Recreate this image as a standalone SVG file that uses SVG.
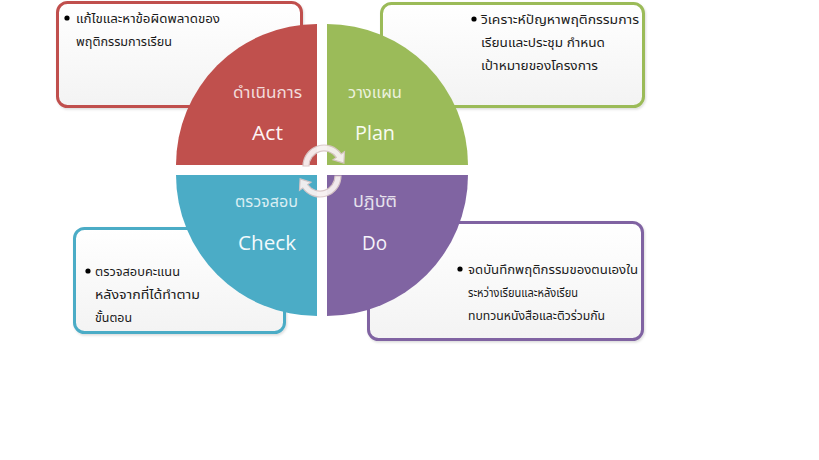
<svg xmlns="http://www.w3.org/2000/svg" width="819" height="460" viewBox="0 0 819 460">
<defs>
<linearGradient id="boxfill" x1="0" y1="0" x2="0" y2="1">
<stop offset="0" stop-color="#ffffff"/>
<stop offset="1" stop-color="#f3f3f3"/>
</linearGradient>
<filter id="sh" x="-5%" y="-5%" width="112%" height="115%">
<feDropShadow dx="1" dy="1.5" stdDeviation="1.2" flood-color="#000" flood-opacity="0.14"/>
</filter>
<path id="arr" d="M303,166 A21,21 0 0 1 341.2,154 L344.5,151.7 L343.9,163.1 L333,159.7 L336.3,157.4 A15,15 0 0 0 309,166 Z"/>
</defs>
<style>
.box{fill:url(#boxfill);stroke-width:3;filter:url(#sh)}
.bt{font-family:"Tahoma","Noto Sans Thai","Noto Sans","DejaVu Sans",sans-serif;font-size:13px;fill:#1a1a1a}
.th{font-family:"Noto Sans Thai","Noto Sans","DejaVu Sans",sans-serif;font-size:15px}
.en{font-family:"Open Sans","Noto Sans",sans-serif;font-size:20px}
.arrow{fill:#f7f1f1;stroke:#d8c6c6;stroke-width:1.2;opacity:0.95}
</style>
<rect width="819" height="460" fill="#ffffff"/>

<g id="box-act">
<rect class="box" x="57.5" y="2.5" width="244" height="104" rx="10" stroke="#c0504d"/>
<circle cx="67" cy="18" r="2.6" fill="#000"/>
<text class="bt" x="76" y="23" textLength="144" lengthAdjust="spacingAndGlyphs">แก้ไขและหาข้อผิดพลาดของ</text>
<text class="bt" x="76" y="46" textLength="96" lengthAdjust="spacingAndGlyphs">พฤติกรรมการเรียน</text>
</g>
<g id="box-plan">
<rect class="box" x="381.5" y="3.5" width="262" height="103" rx="10" stroke="#9bbb59"/>
<circle cx="474" cy="19" r="2.6" fill="#000"/>
<text class="bt" x="481" y="24" textLength="158" lengthAdjust="spacingAndGlyphs">วิเคราะห์ปัญหาพฤติกรรมการ</text>
<text class="bt" x="481" y="47" textLength="124" lengthAdjust="spacingAndGlyphs">เรียนและประชุม กำหนด</text>
<text class="bt" x="481" y="70" textLength="117" lengthAdjust="spacingAndGlyphs">เป้าหมายของโครงการ</text>
</g>
<g id="box-check">
<rect class="box" x="74.5" y="228.5" width="210" height="104" rx="10" stroke="#4bacc6"/>
<circle cx="88" cy="271" r="2.6" fill="#000"/>
<text class="bt" x="95" y="276" textLength="85" lengthAdjust="spacingAndGlyphs">ตรวจสอบคะแนน</text>
<text class="bt" x="95" y="299" textLength="105" lengthAdjust="spacingAndGlyphs">หลังจากที่ได้ทำตาม</text>
<text class="bt" x="95" y="322" textLength="37" lengthAdjust="spacingAndGlyphs">ขั้นตอน</text>
</g>
<g id="box-do">
<rect class="box" x="368.5" y="222.5" width="274" height="117" rx="10" stroke="#8064a2"/>
<circle cx="460" cy="269" r="2.6" fill="#000"/>
<text class="bt" x="468" y="274" textLength="170" lengthAdjust="spacingAndGlyphs">จดบันทึกพฤติกรรมของตนเองใน</text>
<text class="bt" x="468" y="297" textLength="110" lengthAdjust="spacingAndGlyphs">ระหว่างเรียนและหลังเรียน</text>
<text class="bt" x="468" y="320" textLength="137" lengthAdjust="spacingAndGlyphs">ทบทวนหนังสือและติวร่วมกัน</text>
</g>

<g id="q-act">
<path d="M317,165 L176,165 A141,141 0 0 1 317,24 Z" fill="#c0504d"/>
<text class="th" x="233" y="98" fill="#f2dcdb" textLength="69" lengthAdjust="spacingAndGlyphs">ดำเนินการ</text>
<text class="en" x="252" y="140" fill="#fdf4f4" textLength="31" lengthAdjust="spacingAndGlyphs">Act</text>
</g>
<g id="q-plan">
<path d="M327,165 L327,24 A141,141 0 0 1 468,165 Z" fill="#9bbb59"/>
<text class="th" x="348" y="98" fill="#ebf1dd" textLength="54" lengthAdjust="spacingAndGlyphs">วางแผน</text>
<text class="en" x="355" y="140" fill="#f8fbf2" textLength="40" lengthAdjust="spacingAndGlyphs">Plan</text>
</g>
<g id="q-check">
<path d="M317,175 L317,316 A141,141 0 0 1 176,175 Z" fill="#4bacc6"/>
<text class="th" x="235" y="207" fill="#daeef3" textLength="63" lengthAdjust="spacingAndGlyphs">ตรวจสอบ</text>
<text class="en" x="238" y="250" fill="#f2fafc" textLength="58" lengthAdjust="spacingAndGlyphs">Check</text>
</g>
<g id="q-do">
<path d="M327,175 L468,175 A141,141 0 0 1 327,316 Z" fill="#8064a2"/>
<text class="th" x="353" y="207" fill="#e5e0ec" textLength="44" lengthAdjust="spacingAndGlyphs">ปฏิบัติ</text>
<text class="en" x="362" y="250" fill="#f6f3f9" textLength="25" lengthAdjust="spacingAndGlyphs">Do</text>
</g>

<g id="connectors">
<use href="#arr" class="arrow"/>
<use href="#arr" class="arrow" transform="rotate(180 322 171)"/>
</g>
</svg>
